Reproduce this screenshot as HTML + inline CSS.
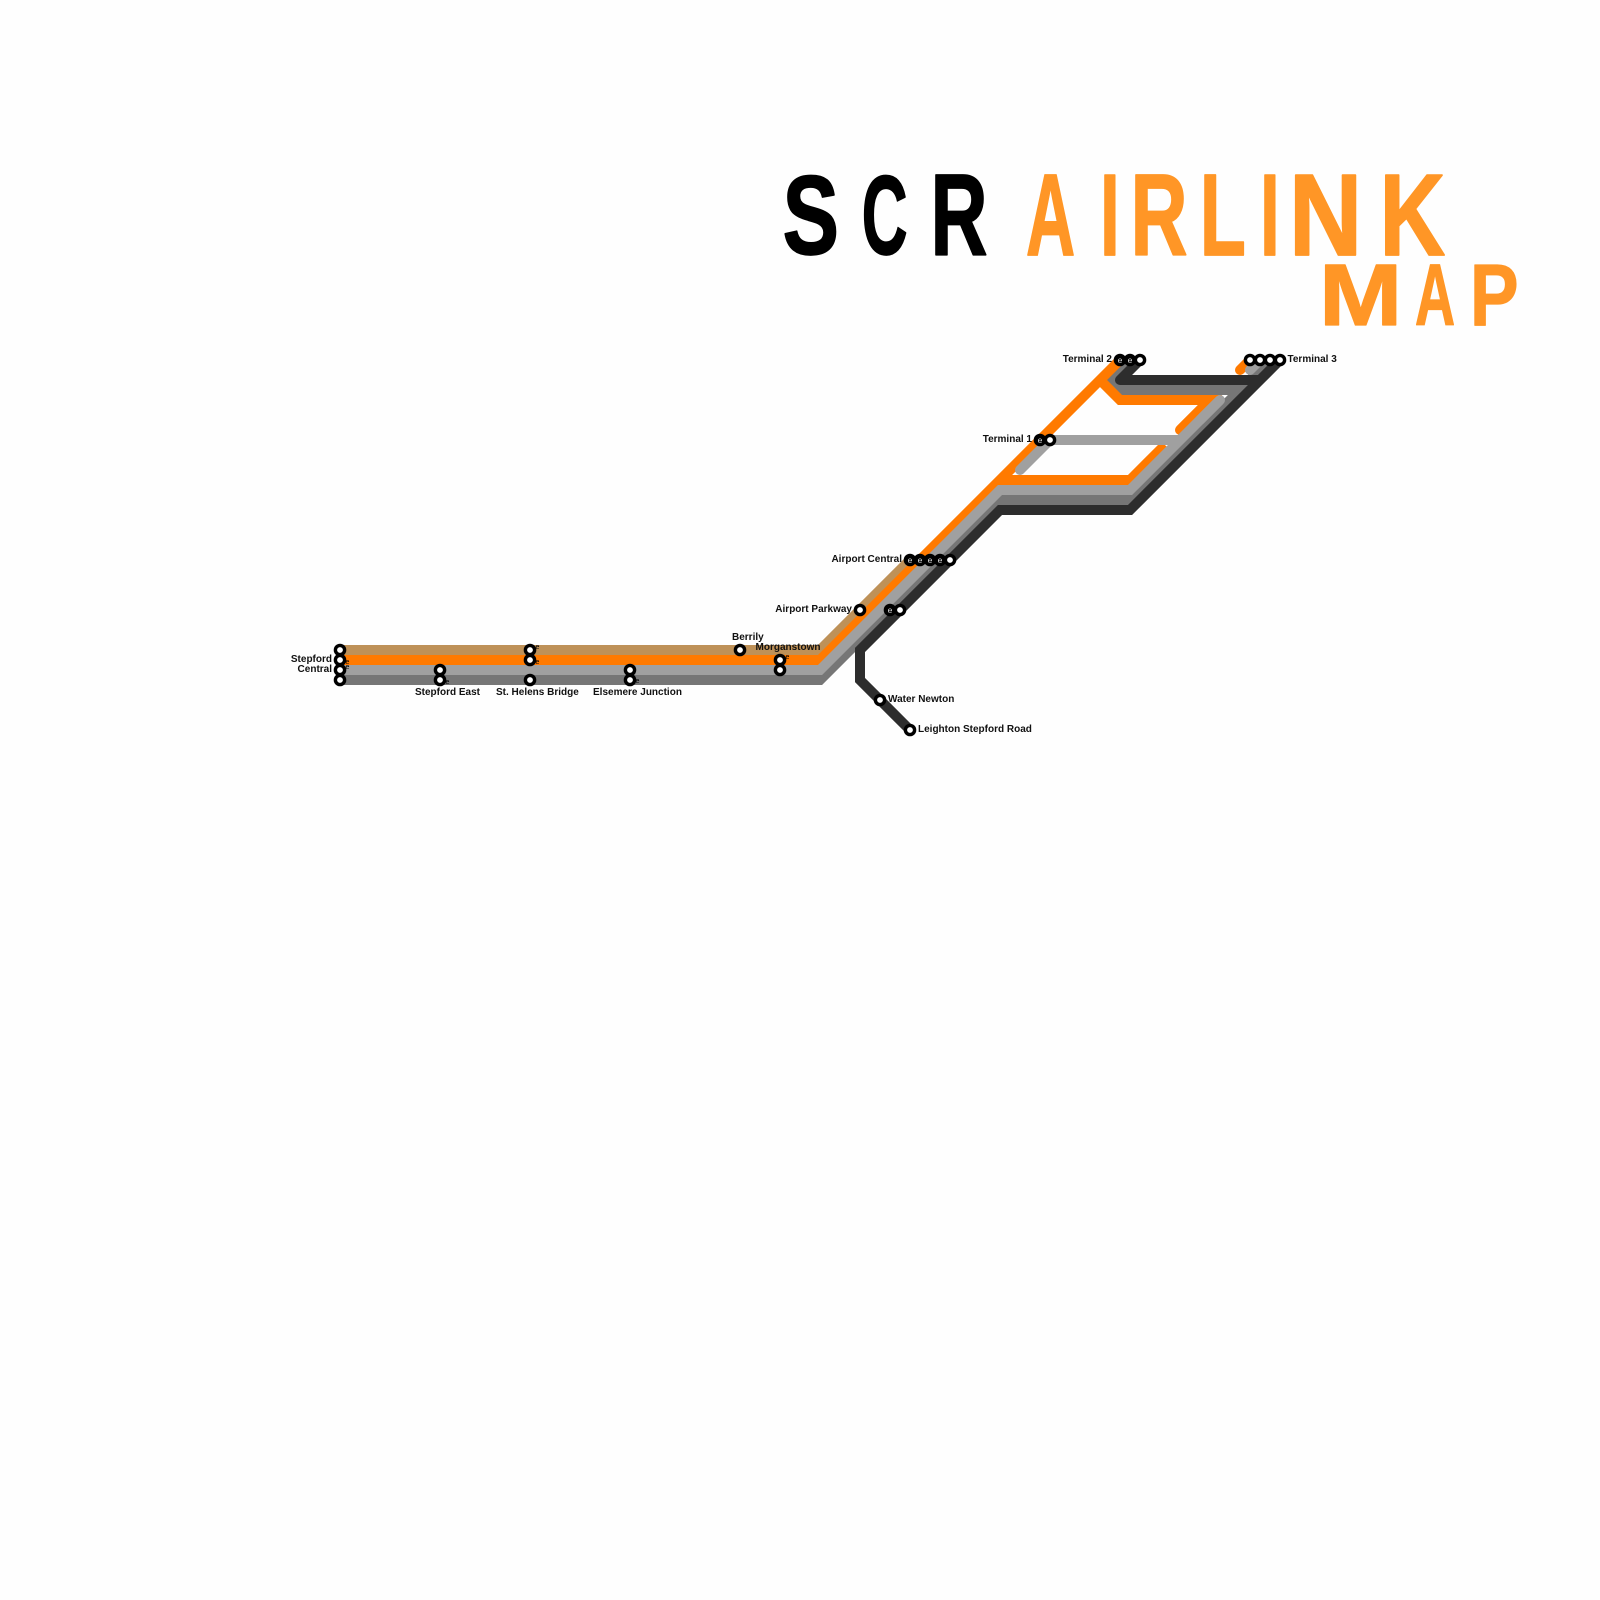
<!DOCTYPE html>
<html><head><meta charset="utf-8"><title>SCR Airlink Map</title>
<style>
html,body{margin:0;padding:0;background:#fefefe}
svg{display:block}
.l{font:bold 10px "Liberation Sans",sans-serif;fill:#111}
.e{font:7px "Liberation Sans",sans-serif;fill:#000}
.w{font:8.5px "Liberation Sans",sans-serif;fill:#ddd;text-anchor:middle}
.t{font:bold 100px "Liberation Sans",sans-serif;stroke-width:1.5;stroke-linejoin:round}
.s{fill:#fff;stroke:#000;stroke-width:3.4}
.b{fill:#000;stroke:#000;stroke-width:3.4}
path{fill:none;stroke-width:10;stroke-linejoin:miter}
.r{stroke-linecap:round}
</style></head>
<body>
<svg width="1600" height="1600" viewBox="0 0 1600 1600" xmlns="http://www.w3.org/2000/svg">
<rect width="1600" height="1600" fill="#fefefe"/>
<!-- title -->
<g class="t" fill="#000" stroke="#000">
<text transform="matrix(.845 0 0 1.12 782.6 254)">S</text>
<text transform="matrix(.635 0 0 1.12 861.8 254)">C</text>
<text transform="matrix(.79 0 0 1.163 930.5 255)">R</text>
</g>
<g class="t" fill="#ff9626" stroke="#ff9626">
<text transform="matrix(.68 0 0 1.163 1026 255)">A</text>
<text transform="matrix(.71 0 0 1.163 1100 255)">I</text>
<text transform="matrix(.79 0 0 1.163 1130.5 255)">R</text>
<text transform="matrix(.755 0 0 1.163 1199.7 255)">L</text>
<text transform="matrix(.71 0 0 1.163 1260 255)">I</text>
<text transform="matrix(1.017 0 0 1.163 1288.9 255)">N</text>
<text transform="matrix(.908 0 0 1.163 1379.6 255)">K</text>
<text transform="matrix(1 0 0 .872 1319 325)">M</text>
<text transform="matrix(.555 0 0 .872 1415 325)">A</text>
<text transform="matrix(.727 0 0 .872 1470 325)">P</text>
</g>
<!-- lines -->
<path stroke="#767676" d="M340 680H820L1000 500H1130L1270 360"/>
<path stroke="#767676" d="M1130 360L1110 380L1120 390H1242"/>
<path stroke="#be9158" d="M340 650H820L910 560"/>
<path stroke="#ff7a00" d="M340 660H820L1120 360L1100 380L1120 400H1210L1180 430"/>
<path stroke="#ff7a00" d="M1000 480H1130L1165 445"/>
<path stroke="#ff7a00" class="r" d="M1210 400L1180 430M1250 360L1240 370"/>
<path stroke="#a0a0a0" d="M340 670H820L1000 490H1130L1220 400"/>
<path stroke="#a0a0a0" class="r" d="M1020 470L1050 440M1260 360L1250 370M1200 420L1220 400"/>
<path stroke="#a0a0a0" d="M1050 440H1180"/>
<path stroke="#2d2d2d" d="M1280 360L1130 510H1000L860 650V680L910 730"/>
<path stroke="#2d2d2d" style="stroke-linejoin:round" d="M1140 360L1120 380H1260"/>
<!-- stations -->
<g class="s">
<circle cx="340" cy="650" r="4.6"/><circle cx="340" cy="660" r="4.6"/><circle cx="340" cy="670" r="4.6"/><circle cx="340" cy="680" r="4.6"/>
<circle cx="440" cy="670" r="4.6"/><circle cx="440" cy="680" r="4.6"/>
<circle cx="530" cy="650" r="4.6"/><circle cx="530" cy="660" r="4.6"/><circle cx="530" cy="680" r="4.6"/>
<circle cx="630" cy="670" r="4.6"/><circle cx="630" cy="680" r="4.6"/>
<circle cx="740" cy="650" r="4.6"/>
<circle cx="780" cy="660" r="4.6"/><circle cx="780" cy="670" r="4.6"/>
<circle cx="860" cy="610" r="4.6"/>
<circle cx="880" cy="700" r="4.6"/><circle cx="910" cy="730" r="4.6"/>
</g>
<g class="b">
<circle cx="890" cy="610" r="4.6"/>
<circle cx="910" cy="560" r="4.6"/><circle cx="920" cy="560" r="4.6"/><circle cx="930" cy="560" r="4.6"/><circle cx="940" cy="560" r="4.6"/>
<circle cx="1040" cy="440" r="4.6"/>
<circle cx="1120" cy="360" r="4.6"/><circle cx="1130" cy="360" r="4.6"/>
</g>
<g class="s">
<circle cx="900" cy="610" r="4.6"/><circle cx="950" cy="560" r="4.6"/>
<circle cx="1050" cy="440" r="4.6"/><circle cx="1140" cy="360" r="4.6"/>
<circle cx="1250" cy="360" r="4.6"/><circle cx="1260" cy="360" r="4.6"/><circle cx="1270" cy="360" r="4.6"/><circle cx="1280" cy="360" r="4.6"/>
</g>
<g class="w">
<text x="890" y="613">e</text>
<text x="910" y="563">e</text><text x="920" y="563">e</text><text x="930" y="563">e</text><text x="940" y="563">e</text>
<text x="1040" y="443">e</text>
<text x="1120" y="363">e</text><text x="1130" y="363">e</text>
</g>
<!-- small e marks -->
<g class="e">
<text x="345.5" y="664">e</text><text x="345.5" y="669">e</text>
<text x="535.5" y="649">e</text><text x="535.5" y="664">e</text>
<text x="445.5" y="684">e</text><text x="635.5" y="683">e</text><text x="785.5" y="659">e</text>
</g>
<!-- labels -->
<g class="l">
<text x="332" y="662" text-anchor="end">Stepford</text>
<text x="332" y="672" text-anchor="end">Central</text>
<text x="415" y="695">Stepford East</text>
<text x="496" y="695">St. Helens Bridge</text>
<text x="593" y="695">Elsemere Junction</text>
<text x="732" y="640">Berrily</text>
<text x="755.5" y="650">Morganstown</text>
<text x="852" y="612" text-anchor="end">Airport Parkway</text>
<text x="902" y="562" text-anchor="end">Airport Central</text>
<text x="888" y="702">Water Newton</text>
<text x="918" y="732">Leighton Stepford Road</text>
<text x="1032" y="442" text-anchor="end">Terminal 1</text>
<text x="1112" y="362" text-anchor="end">Terminal 2</text>
<text x="1287.5" y="362">Terminal 3</text>
</g>
</svg>
</body></html>
